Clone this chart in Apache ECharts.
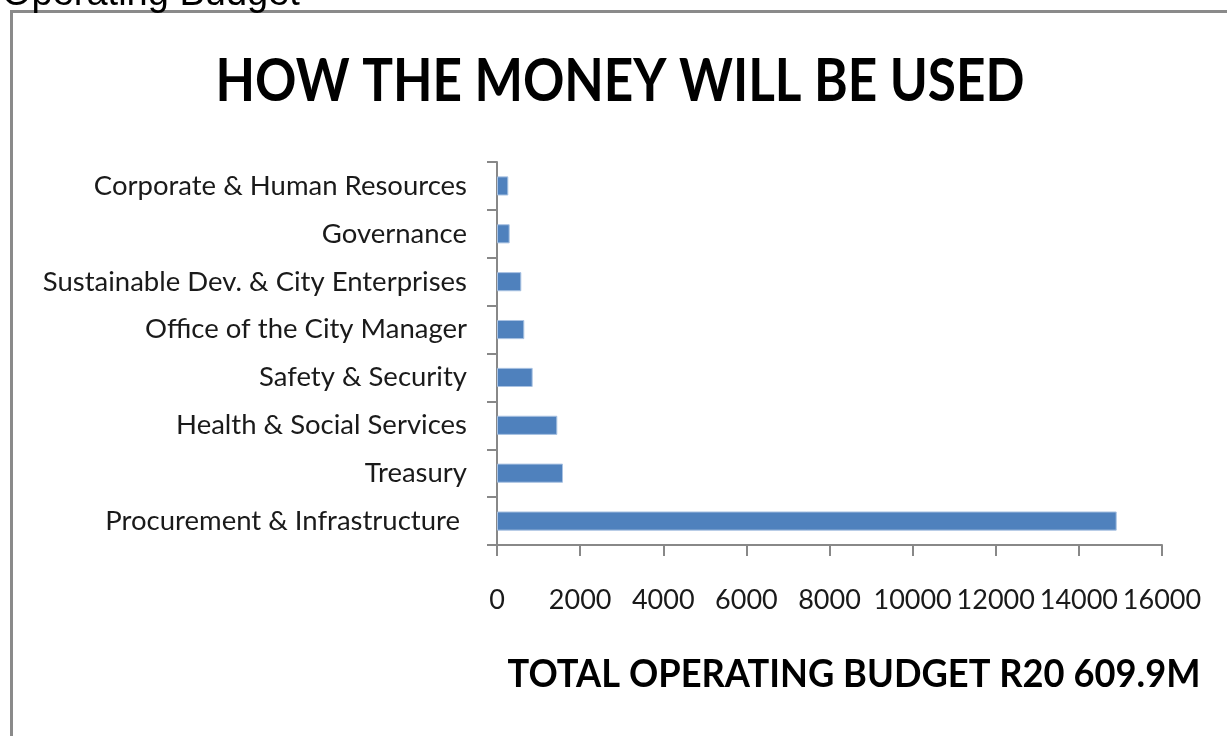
<!DOCTYPE html>
<html>
<head>
<meta charset="utf-8">
<title>How the money will be used</title>
<script src="https://cdn.jsdelivr.net/npm/echarts@6/dist/echarts.min.js"></script>
<style>
  html, body { margin: 0; padding: 0; background: #ffffff; }
  #chart { width: 1227px; height: 736px; }
</style>
</head>
<body>
<div id="chart"></div>
<script>
// Directorates, listed bottom to top as they appear on the category axis
const departments = [
  'Procurement & Infrastructure ',
  'Treasury',
  'Health & Social Services',
  'Safety & Security',
  'Office of the City Manager',
  'Sustainable Dev. & City Enterprises',
  'Governance',
  'Corporate & Human Resources'
];

// Operating budget allocation (R million)
const allocations = [14910, 1588, 1451, 858, 657, 585, 305, 272];

// Value axis range
const axisMin = 0;
const axisMax = 16000;
const axisStep = 2000;

const pageHeading = 'Operating Budget';
const chartTitle = 'HOW THE MONEY WILL BE USED';
const totalCaption = 'TOTAL OPERATING BUDGET R20 609.9M';

const labelFont = 'Lato, "Open Sans", sans-serif';

const chart = echarts.init(document.getElementById('chart'), null, { renderer: 'canvas' });

chart.setOption({
  backgroundColor: '#ffffff',
  animation: false,
  grid: { left: 497, right: 65, top: 162, bottom: 191, containLabel: false },
  xAxis: {
    type: 'value',
    min: axisMin,
    max: axisMax,
    interval: axisStep,
    splitLine: { show: false },
    axisLine: { show: true, lineStyle: { color: '#888888', width: 2 } },
    axisTick: { show: true, length: 11, lineStyle: { color: '#888888', width: 2 } },
    axisLabel: {
      color: '#1a1a1a',
      fontFamily: labelFont,
      fontSize: 27,
      margin: 42,
      showMinLabel: true,
      showMaxLabel: true,
      hideOverlap: false,
      formatter: function (v) { return String(v); }
    }
  },
  yAxis: {
    type: 'category',
    data: departments,
    axisLine: { show: true, lineStyle: { color: '#888888', width: 2 } },
    axisTick: { show: true, length: 10, lineStyle: { color: '#888888', width: 2 } },
    axisLabel: {
      color: '#1a1a1a',
      fontFamily: labelFont,
      fontSize: 27.5,
      margin: 30
    }
  },
  series: [{
    type: 'bar',
    data: allocations,
    barCategoryGap: '60%',
    itemStyle: { color: '#4f81bd', borderColor: '#a9c2e2', borderWidth: 1 }
  }],
  graphic: [
    {
      type: 'rect',
      shape: { x: 11.5, y: 11.5, width: 1400, height: 900 },
      style: { fill: 'none', stroke: '#8a8a8a', lineWidth: 3 },
      silent: true
    },
    {
      type: 'text',
      x: 2, y: 14,
      style: {
        text: pageHeading,
        font: '38px "Liberation Sans", Arial, sans-serif',
        fill: '#000000',
        verticalAlign: 'bottom'
      }
    },
    {
      type: 'text',
      x: 620, y: 82,
      scaleX: 0.855,
      style: {
        text: chartTitle,
        font: 'bold 60px Lato, sans-serif',
        fill: '#000000',
        align: 'center',
        verticalAlign: 'middle'
      }
    },
    {
      type: 'text',
      x: 854, y: 674,
      scaleX: 0.93,
      style: {
        text: totalCaption,
        font: 'bold 39px Lato, sans-serif',
        fill: '#000000',
        align: 'center',
        verticalAlign: 'middle'
      }
    }
  ]
});
</script>
</body>
</html>
